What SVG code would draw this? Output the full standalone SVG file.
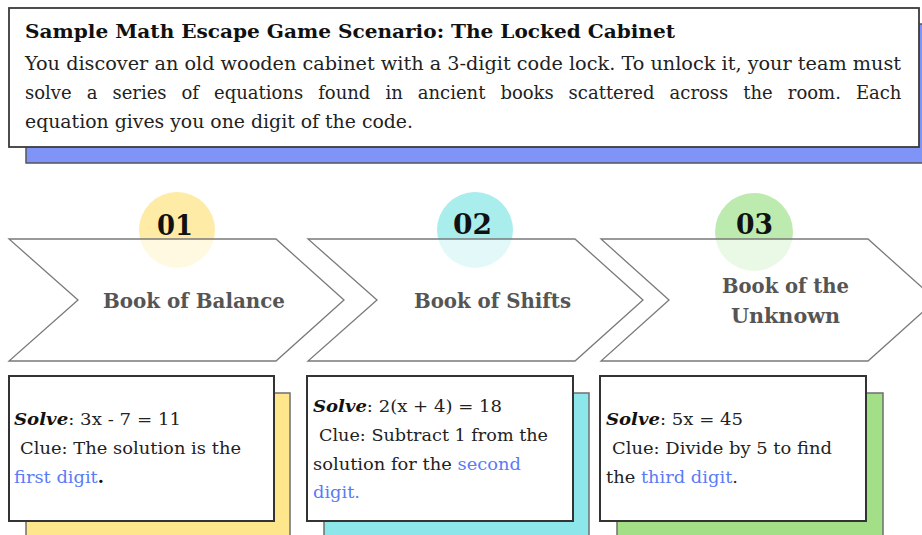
<svg xmlns="http://www.w3.org/2000/svg" width="922" height="535" viewBox="0 0 922 535">
  <style>
    .serif { font-family: 'DejaVu Serif', 'Liberation Serif', serif; }
    .title { font-size: 18px; font-weight: bold; fill: #111; }
    .body { font-size: 18px; fill: #222; }
    .num { font-size: 28px; font-weight: bold; fill: #111; }
    .label { font-size: 20px; font-weight: bold; fill: #555; }
    .card-text { font-size: 17.5px; fill: #222; }
    .solve { font-weight: bold; font-style: italic; fill: #111; }
    .hl { fill: #5a7bf6; }
    .chevron { fill: #ffffff; fill-opacity: 0.68; stroke: #7a7a7a; stroke-width: 1.3; }
    .card { fill: #ffffff; stroke: #333; stroke-width: 2; }
    .card-back { stroke: #6f6f6f; stroke-width: 1.5; }
  </style>

  <!-- scenario header -->
  <g id="header">
    <rect x="26" y="24" width="910" height="139" fill="#8094f8" stroke="#555" stroke-width="1.5"/>
    <rect x="9" y="8" width="910" height="139" fill="#ffffff" stroke="#3a3a3a" stroke-width="1.8"/>
    <text class="serif title" x="25" y="38" textLength="650" lengthAdjust="spacingAndGlyphs">Sample Math Escape Game Scenario: The Locked Cabinet</text>
    <text class="serif body" x="25" y="70" textLength="876" lengthAdjust="spacingAndGlyphs">You discover an old wooden cabinet with a 3-digit code lock. To unlock it, your team must</text>
    <!-- justified line: each word placed on its own -->
    <text class="serif body" y="99">
      <tspan x="25">solve</tspan><tspan x="86.7">a</tspan><tspan x="112.4">series</tspan><tspan x="181.5">of</tspan><tspan x="214">equations</tspan><tspan x="318.2">found</tspan><tspan x="385.4">in</tspan><tspan x="417.8">ancient</tspan><tspan x="500.4">books</tspan><tspan x="568.6">scattered</tspan><tspan x="669.6">across</tspan><tspan x="743.3">the</tspan><tspan x="787.8">room.</tspan><tspan x="855.9">Each</tspan>
    </text>
    <text class="serif body" x="25" y="128" textLength="388" lengthAdjust="spacingAndGlyphs">equation gives you one digit of the code.</text>
  </g>

  <!-- step 1 -->
  <g id="step-1">
    <circle cx="177" cy="230" r="38" fill="#fdeba6"/>
    <polygon class="chevron" points="9,239 276,239 344,300 276,361 9,361 78,300"/>
    <text class="serif num" x="157" y="235" textLength="36" lengthAdjust="spacingAndGlyphs">01</text>
    <text class="serif label" x="103" y="308" textLength="182" lengthAdjust="spacingAndGlyphs">Book of Balance</text>
  </g>

  <!-- step 2 -->
  <g id="step-2">
    <circle cx="475" cy="230" r="38" fill="#a9eded"/>
    <polygon class="chevron" points="308,239 575,239 643,300 575,361 308,361 377,300"/>
    <text class="serif num" x="453" y="234" textLength="39" lengthAdjust="spacingAndGlyphs">02</text>
    <text class="serif label" x="414" y="308" textLength="157" lengthAdjust="spacingAndGlyphs">Book of Shifts</text>
  </g>

  <!-- step 3 -->
  <g id="step-3">
    <circle cx="754" cy="232" r="39" fill="#bdebaf"/>
    <polygon class="chevron" points="601,239 868,239 936,300 868,361 601,361 669,300"/>
    <text class="serif num" x="736" y="234" textLength="37" lengthAdjust="spacingAndGlyphs">03</text>
    <text class="serif label" x="722" y="293" textLength="127" lengthAdjust="spacingAndGlyphs">Book of the</text>
    <text class="serif label" x="731" y="323" textLength="109" lengthAdjust="spacingAndGlyphs">Unknown</text>
  </g>

  <!-- clue card 1 -->
  <g id="card-1">
    <rect class="card-back" x="26" y="393" width="264" height="160" fill="#fde68b"/>
    <rect class="card" x="9" y="376" width="265" height="145"/>
    <text class="serif card-text" x="14" y="425" textLength="167" lengthAdjust="spacingAndGlyphs"><tspan class="solve">Solve</tspan>: 3x - 7 = 11</text>
    <text class="serif card-text" x="20" y="454" textLength="221" lengthAdjust="spacingAndGlyphs">Clue: The solution is the</text>
    <text class="serif card-text" x="14" y="483" textLength="90" lengthAdjust="spacingAndGlyphs"><tspan class="hl">first digit</tspan><tspan font-weight="bold" fill="#111">.</tspan></text>
  </g>

  <!-- clue card 2 -->
  <g id="card-2">
    <rect class="card-back" x="324" y="393" width="265" height="160" fill="#8de6e9"/>
    <rect class="card" x="307" y="376" width="266" height="145"/>
    <text class="serif card-text" x="313" y="412" textLength="189" lengthAdjust="spacingAndGlyphs"><tspan class="solve">Solve</tspan>: 2(x + 4) = 18</text>
    <text class="serif card-text" x="319" y="441" textLength="229" lengthAdjust="spacingAndGlyphs">Clue: Subtract 1 from the</text>
    <text class="serif card-text" x="313" y="470" textLength="208" lengthAdjust="spacingAndGlyphs">solution for the <tspan class="hl">second</tspan></text>
    <text class="serif card-text hl" x="313" y="498" textLength="47" lengthAdjust="spacingAndGlyphs">digit.</text>
  </g>

  <!-- clue card 3 -->
  <g id="card-3">
    <rect class="card-back" x="617" y="393" width="266" height="160" fill="#a2df86"/>
    <rect class="card" x="600" y="376" width="266" height="145"/>
    <text class="serif card-text" x="606" y="425" textLength="137" lengthAdjust="spacingAndGlyphs"><tspan class="solve">Solve</tspan>: 5x = 45</text>
    <text class="serif card-text" x="612" y="454" textLength="220" lengthAdjust="spacingAndGlyphs">Clue: Divide by 5 to find</text>
    <text class="serif card-text" x="606" y="483" textLength="132" lengthAdjust="spacingAndGlyphs">the <tspan class="hl">third digit</tspan>.</text>
  </g>
</svg>
